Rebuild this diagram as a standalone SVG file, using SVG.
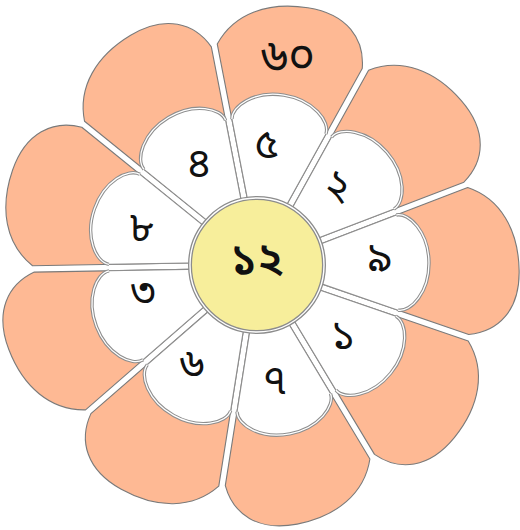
<svg xmlns="http://www.w3.org/2000/svg" width="520" height="530" viewBox="0 0 520 530">
<style>
.outer{fill:#FEB994;stroke:#7a7a7a;stroke-width:1.1;stroke-linejoin:round}
.inner{fill:#fff;stroke:#8e8e8e;stroke-width:1.1;stroke-linejoin:round}
.capg{fill:none;stroke:#8e8e8e;stroke-width:3.4}
.capw{fill:none;stroke:#fff;stroke-width:1.3}
.num{font-family:"Noto Sans Bengali","Noto Sans",sans-serif;font-size:42px;font-weight:normal;fill:#111;text-anchor:middle;dominant-baseline:central}
</style>
<defs>
<path id="op" d="M-15.8 -52.8 L-73.8 -212 C-62 -245 -30 -262 10 -262 C50 -262 71 -240 73.2 -210.5 L15.8 -52.8 Z"/>
<path id="ip" d="M-15.8 -52.8 L-47.6 -140.2 C-50 -153 -30 -172 0 -172 C30 -172 50 -153 47.6 -140.2 L15.8 -52.8 Z"/>
<path id="cap" d="M-47.6 -140.2 C-50 -153 -30 -172 0 -172 C30 -172 50 -153 47.6 -140.2"/>
</defs>
<g id="connectors"/>
<g id="petal-5">
<use href="#op" class="outer" transform="translate(257 265) rotate(9)"/>
<use href="#ip" class="inner" transform="translate(257 265) rotate(9)"/>
<use href="#cap" class="capg" transform="translate(257 265) rotate(9)"/>
<use href="#cap" class="capw" transform="translate(257 265) rotate(9)"/>
<text class="num" x="288" y="60" style="font-size:46px">৬০</text>
<text class="num" x="267" y="147">৫</text>
</g>
<g id="petal-2">
<use href="#op" class="outer" transform="translate(257 265) rotate(49)"/>
<use href="#ip" class="inner" transform="translate(257 265) rotate(49)"/>
<use href="#cap" class="capg" transform="translate(257 265) rotate(49)"/>
<use href="#cap" class="capw" transform="translate(257 265) rotate(49)"/>
<text class="num" x="337" y="188" transform="rotate(20 337 188)">২</text>
</g>
<g id="petal-9">
<use href="#op" class="outer" transform="translate(257 265) rotate(89)"/>
<use href="#ip" class="inner" transform="translate(257 265) rotate(89)"/>
<use href="#cap" class="capg" transform="translate(257 265) rotate(89)"/>
<use href="#cap" class="capw" transform="translate(257 265) rotate(89)"/>
<text class="num" x="380" y="260">৯</text>
</g>
<g id="petal-1">
<use href="#op" class="outer" transform="translate(257 265) rotate(129)"/>
<use href="#ip" class="inner" transform="translate(257 265) rotate(129)"/>
<use href="#cap" class="capg" transform="translate(257 265) rotate(129)"/>
<use href="#cap" class="capw" transform="translate(257 265) rotate(129)"/>
<text class="num" x="343" y="338">১</text>
</g>
<g id="petal-7">
<use href="#op" class="outer" transform="translate(257 265) rotate(169)"/>
<use href="#ip" class="inner" transform="translate(257 265) rotate(169)"/>
<use href="#cap" class="capg" transform="translate(257 265) rotate(169)"/>
<use href="#cap" class="capw" transform="translate(257 265) rotate(169)"/>
<text class="num" x="275" y="383">৭</text>
</g>
<g id="petal-6">
<use href="#op" class="outer" transform="translate(257 265) rotate(209)"/>
<use href="#ip" class="inner" transform="translate(257 265) rotate(209)"/>
<use href="#cap" class="capg" transform="translate(257 265) rotate(209)"/>
<use href="#cap" class="capw" transform="translate(257 265) rotate(209)"/>
<text class="num" x="192" y="367">৬</text>
</g>
<g id="petal-3">
<use href="#op" class="outer" transform="translate(257 265) rotate(249)"/>
<use href="#ip" class="inner" transform="translate(257 265) rotate(249)"/>
<use href="#cap" class="capg" transform="translate(257 265) rotate(249)"/>
<use href="#cap" class="capw" transform="translate(257 265) rotate(249)"/>
<text class="num" x="143" y="295">৩</text>
</g>
<g id="petal-8">
<use href="#op" class="outer" transform="translate(257 265) rotate(289)"/>
<use href="#ip" class="inner" transform="translate(257 265) rotate(289)"/>
<use href="#cap" class="capg" transform="translate(257 265) rotate(289)"/>
<use href="#cap" class="capw" transform="translate(257 265) rotate(289)"/>
<text class="num" x="142" y="230">৮</text>
</g>
<g id="petal-4">
<use href="#op" class="outer" transform="translate(257 265) rotate(329)"/>
<use href="#ip" class="inner" transform="translate(257 265) rotate(329)"/>
<use href="#cap" class="capg" transform="translate(257 265) rotate(329)"/>
<use href="#cap" class="capw" transform="translate(257 265) rotate(329)"/>
<text class="num" x="199" y="166">৪</text>
</g>
<g id="center">
<circle cx="257" cy="265" r="67" fill="#F7EE9B" stroke="#8c8c8c" stroke-width="4"/>
<circle cx="257" cy="265" r="67" fill="none" stroke="#fff" stroke-width="1.4"/>
<text class="num" x="257" y="263" style="font-size:44px;font-weight:600">১২</text>
</g>
</svg>
